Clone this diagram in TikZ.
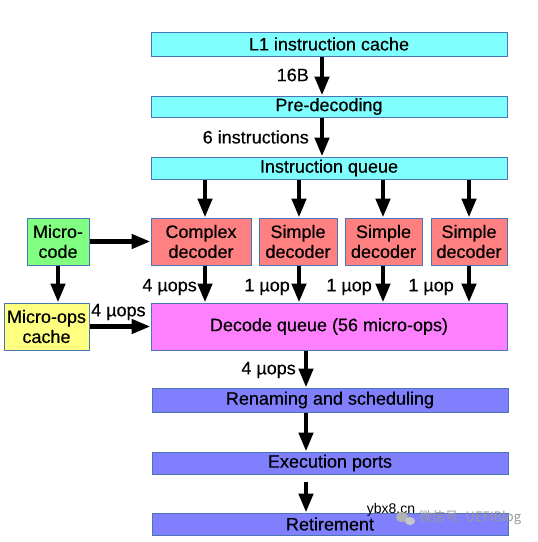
\documentclass[tikz,border=0pt]{standalone}
\usepackage{fontspec}
\setmainfont{Liberation Sans}
\newfontfamily\heavy{Liberation Sans}[FakeBold=0.35]
\newfontfamily\cjk{Noto Sans CJK SC}
\usetikzlibrary{arrows.meta}
\definecolor{bord}{HTML}{4A76B8}
\definecolor{cyanbox}{HTML}{80FFFF}
\definecolor{redbox}{HTML}{FF8080}
\definecolor{greenbox}{HTML}{80FF80}
\definecolor{yellowbox}{HTML}{FFFF80}
\definecolor{pinkbox}{HTML}{FF80FF}
\definecolor{bluebox}{HTML}{8080FF}
\tikzset{
  box/.style={draw=bord, line width=1pt, inner sep=0pt, align=center,
    font=\heavy\fontsize{18}{20}\selectfont},
  arr/.style={line width=4.5pt, -{Triangle[length=19pt,width=14pt]}},
  lbl/.style={inner sep=0pt, font=\heavy\fontsize{18}{20}\selectfont},
}
\begin{document}
\begin{tikzpicture}[x=1pt,y=-1pt]
\useasboundingbox[fill=white] (0,0) rectangle (538,542);
% boxes
\node[box, fill=cyanbox, minimum width=356pt, minimum height=24pt] (l1) at (329,44) {L1 instruction cache};
\node[box, fill=cyanbox, minimum width=356pt, minimum height=21pt] (pre) at (329,106.5) {Pre-decoding};
\node[box, fill=cyanbox, minimum width=356pt, minimum height=22pt] (iq) at (329,168) {Instruction queue};
\node[box, fill=greenbox, minimum width=62pt, minimum height=47pt] (mc) at (58,241.5) {Micro-\\code};
\node[box, fill=redbox, minimum width=100pt, minimum height=47pt] (cd) at (201,241.5) {Complex\\decoder};
\node[box, fill=redbox, minimum width=78pt, minimum height=47pt] (sd1) at (298,241.5) {Simple\\decoder};
\node[box, fill=redbox, minimum width=77pt, minimum height=47pt] (sd2) at (383.5,241.5) {Simple\\decoder};
\node[box, fill=redbox, minimum width=76pt, minimum height=47pt] (sd3) at (469,241.5) {Simple\\decoder};
\node[box, fill=yellowbox, minimum width=85pt, minimum height=47pt] (moc) at (46.5,326.5) {Micro-ops\\cache};
\node[box, fill=pinkbox, minimum width=356pt, minimum height=47pt] (dq) at (329,326.5) {Decode queue (56 micro-ops)};
\node[box, fill=bluebox, minimum width=356pt, minimum height=24pt] (rn) at (330,400) {Renaming and scheduling};
\node[box, fill=bluebox, minimum width=356pt, minimum height=22pt] (ep) at (330,463) {Execution ports};
\node[box, fill=bluebox, minimum width=356pt, minimum height=22pt] (rt) at (330,524) {Retirement};
% arrow columns
\coordinate (xa) at (322,0);
\coordinate (xc) at (205,0);
\coordinate (xs1) at (299,0);
\coordinate (xs2) at (383,0);
\coordinate (xs3) at (469,0);
\coordinate (xb) at (306,0);
% arrows
\draw[arr] (l1.south -| xa) -- (pre.north -| xa);
\draw[arr] (pre.south -| xa) -- (iq.north -| xa);
\draw[arr] (iq.south -| xc) -- (cd.north -| xc);
\draw[arr] (iq.south -| xs1) -- (sd1.north -| xs1);
\draw[arr] (iq.south -| xs2) -- (sd2.north -| xs2);
\draw[arr] (iq.south -| xs3) -- (sd3.north -| xs3);
\draw[arr] (mc.east) -- (cd.west);
\draw[arr] (mc.south) -- (moc.north -| mc.south);
\draw[arr] (moc.east) -- (dq.west);
\draw[arr] (cd.south -| xc) -- (dq.north -| xc);
\draw[arr] (sd1.south -| xs1) -- (dq.north -| xs1);
\draw[arr] (sd2.south -| xs2) -- (dq.north -| xs2);
\draw[arr] (sd3.south -| xs3) -- (dq.north -| xs3);
\draw[arr] (dq.south -| xb) -- (rn.north -| xb);
\draw[arr] (rn.south -| xb) -- (ep.north -| xb);
\draw[arr] ([yshift=-7pt]ep.south -| xb) -- (rt.north -| xb);
% labels
\node[lbl, anchor=east] (t16) at (309,75) {16B};
\node[lbl, anchor=east] (t6) at (309,137) {6 instructions};
\node[lbl, anchor=east] (tc) at (197,287) {4 µops};
\node[lbl, anchor=east] (ts1) at (290,287) {1 µop};
\node[lbl, anchor=east] (ts2) at (372,287) {1 µop};
\node[lbl, anchor=east] (ts3) at (454,287) {1 µop};
\node[lbl, anchor=west] (tm) at (91,312) {4 µops};
\node[lbl, anchor=east] (tb) at (296,370) {4 µops};
% watermark
\node[inner sep=0pt, font=\fontsize{14}{15}\selectfont] (wm1) at (391,510) {ybx8.cn};
\fill[gray!60] (402,517) ellipse (6pt and 5pt);
\fill[gray!45] (410,521) ellipse (5pt and 4pt);
\node[inner sep=0pt, anchor=west, text=gray!80, font=\cjk\fontsize{13}{15}\selectfont] (wm2) at (419,518) {微信号: UEFIBlog};
\end{tikzpicture}
\end{document}
